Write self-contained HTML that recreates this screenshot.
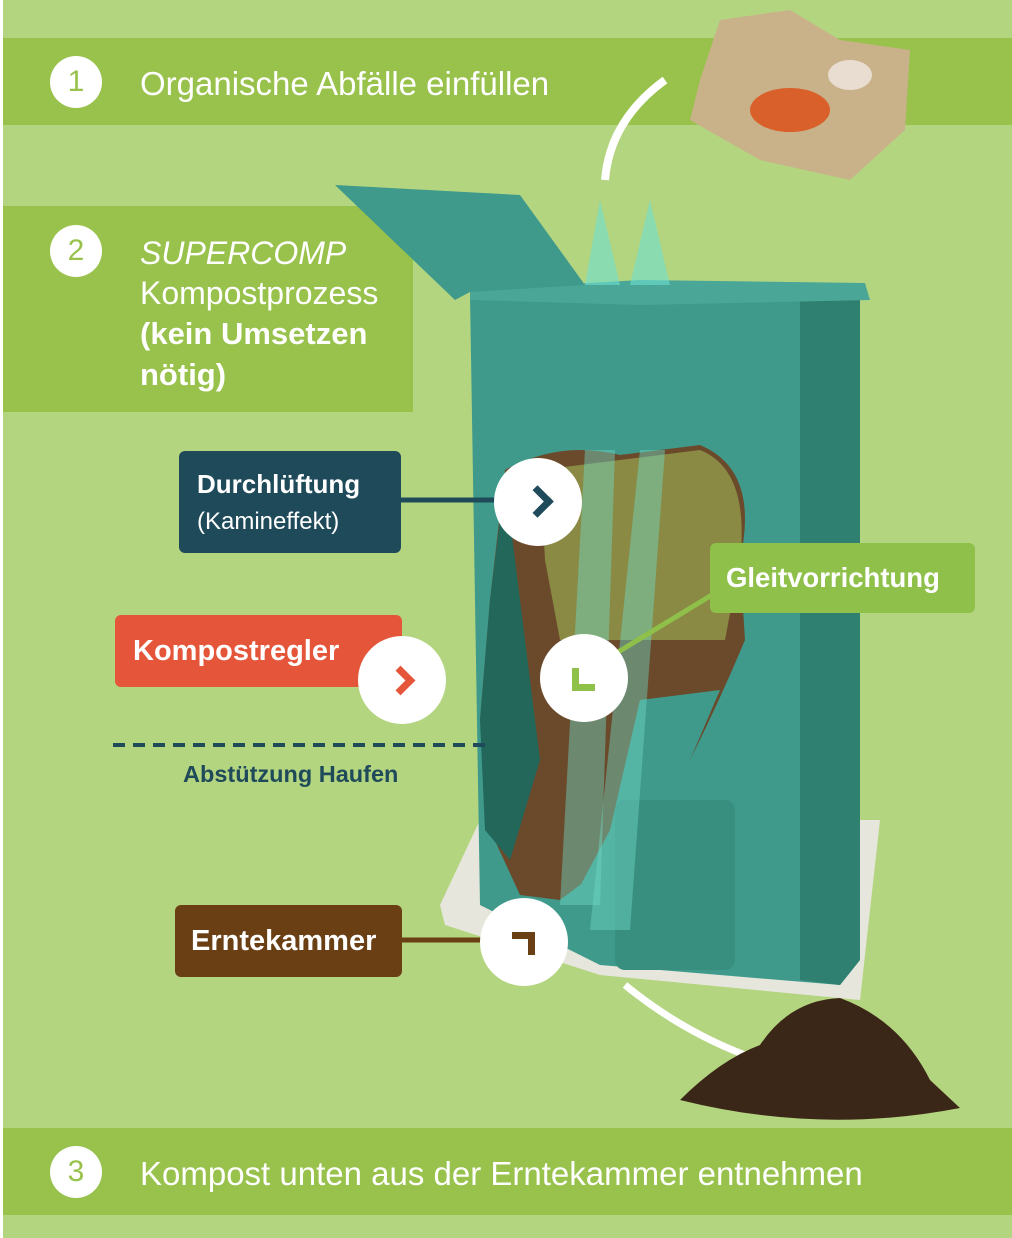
<!DOCTYPE html>
<html><head><meta charset="utf-8"><style>
body{margin:0;width:1012px;height:1238px;overflow:hidden;background:#b4d580;font-family:"Liberation Sans",sans-serif;position:relative}
.band{position:absolute;background:#98c24c}
.num{position:absolute;width:52px;height:52px;border-radius:50%;background:#fff;color:#98c24c;font-size:30px;text-align:center;line-height:52px}
.t{position:absolute;color:#fff;font-size:32px}
.lab{position:absolute;color:#fff;font-weight:bold;font-size:29px;border-radius:6px}
.circ{position:absolute;width:88px;height:88px;border-radius:50%;background:#fff}
</style></head><body>
<div style="position:absolute;left:0;top:0;width:3px;height:1238px;background:#fff"></div>
<div class="band" style="left:3px;top:38px;width:1009px;height:87px"></div>
<div class="band" style="left:3px;top:206px;width:410px;height:206px"></div>
<div class="band" style="left:3px;top:1128px;width:1009px;height:87px"></div>
<div class="num" style="left:50px;top:56px">1</div>
<div class="t" style="left:140px;top:65px;font-size:33px">Organische Abfälle einfüllen</div>
<div class="num" style="left:50px;top:225px">2</div>
<div class="t" style="left:140px;top:233px;line-height:40px"><i>SUPERCOMP</i><br>Kompostprozess<br><b style="font-size:31px">(kein Umsetzen<br>nötig)</b></div>
<div class="num" style="left:50px;top:1146px">3</div>
<div class="t" style="left:140px;top:1155px;font-size:33px">Kompost unten aus der Erntekammer entnehmen</div>

<svg style="position:absolute;left:0;top:0" width="1012" height="1238">
<polygon points="440,905 480,820 880,820 860,1000 600,975 445,925" fill="#e6e6dc"/>
<polygon points="470,295 860,285 860,960 840,985 600,965 480,905" fill="#3f9a8b"/>
<polygon points="800,295 860,285 860,960 840,985 800,980" fill="#2f8071"/>
<polygon points="470,290 640,280 865,283 870,300 640,305 470,300" fill="#4aa696"/>
<polygon points="335,185 520,195 585,285 470,292 455,300" fill="#3f9a8b"/>
<path d="M505,470 Q560,440 620,455 L700,445 Q760,470 740,560 L745,640 Q720,700 690,760 L655,790 L640,830 L600,870 L560,900 L520,895 L490,830 L480,720 L490,600 Z" fill="#6b4a2c"/>
<path d="M540,470 L700,450 Q750,470 740,560 L725,640 L560,640 L545,560 Z" fill="#8a8a45"/>
<path d="M505,480 Q520,600 540,760 L510,860 L485,830 L480,720 L490,600 Z" fill="#23665a"/>
<path d="M640,700 L720,690 L690,760 L660,800 L660,960 L600,965 L570,905 L610,830 Z" fill="#3f9a8b"/>
<rect x="615" y="800" width="120" height="170" rx="10" fill="#388f80"/>
<polygon points="585,450 615,450 600,905 560,905" fill="#6ed6c4" opacity=".45"/>
<polygon points="640,450 665,450 630,930 590,930" fill="#6ed6c4" opacity=".45"/>
<polygon points="585,285 600,200 620,285" fill="#6ee0d0" opacity=".6"/>
<polygon points="630,285 650,200 670,285" fill="#6ee0d0" opacity=".6"/>
<path d="M665,80 Q610,120 605,180" stroke="#fff" stroke-width="8" fill="none"/>
<path d="M625,985 Q680,1030 745,1055" stroke="#fff" stroke-width="7" fill="none"/>
<polygon points="720,20 790,10 840,40 910,50 905,130 850,180 760,160 690,120 700,80" fill="#c9b189"/>
<ellipse cx="790" cy="110" rx="40" ry="22" fill="#d9602a"/>
<ellipse cx="850" cy="75" rx="22" ry="15" fill="#e8ddd0"/>
<path d="M680,1100 Q720,1060 760,1045 Q790,1000 840,998 Q900,1020 930,1080 L960,1108 Q820,1135 680,1100Z" fill="#3b2717"/>
<line x1="400" y1="500" x2="500" y2="500" stroke="#1f4a5a" stroke-width="5"/>
<line x1="605" y1="660" x2="720" y2="590" stroke="#8ec04a" stroke-width="5"/>
<line x1="400" y1="940" x2="490" y2="940" stroke="#6a3f14" stroke-width="5"/>
<line x1="113" y1="745" x2="485" y2="745" stroke="#1f4a5a" stroke-width="4" stroke-dasharray="12,8"/>
</svg>

<div class="lab" style="left:179px;top:451px;width:222px;height:102px;background:#1f4a5a;padding-left:18px;box-sizing:border-box;line-height:36px;padding-top:15px;font-size:26px">Durchlüftung<br><span style="font-weight:normal;font-size:24px">(Kamineffekt)</span></div>
<div class="lab" style="left:115px;top:615px;width:287px;height:72px;background:#e5553a;line-height:72px;padding-left:18px;box-sizing:border-box">Kompostregler</div>
<div class="lab" style="left:710px;top:543px;width:265px;height:70px;background:#8ec04a;line-height:70px;padding-left:16px;box-sizing:border-box;font-size:27.5px">Gleitvorrichtung</div>
<div class="lab" style="left:175px;top:905px;width:227px;height:72px;background:#6a3f14;line-height:72px;padding-left:16px;box-sizing:border-box">Erntekammer</div>
<div style="position:absolute;left:183px;top:761px;color:#1f4a5a;font-weight:bold;font-size:23.5px">Abstützung Haufen</div>

<div class="circ" style="left:494px;top:458px"><div style="position:absolute;left:32px;top:32px;width:16px;height:16px;border-top:7px solid #1f4a5a;border-right:7px solid #1f4a5a;transform:rotate(45deg)"></div></div>
<div class="circ" style="left:358px;top:636px"><div style="position:absolute;left:32px;top:34px;width:14px;height:14px;border-top:7px solid #e5553a;border-right:7px solid #e5553a;transform:rotate(45deg)"></div></div>
<div class="circ" style="left:540px;top:634px"><div style="position:absolute;left:32px;top:34px;width:16px;height:16px;border-bottom:7px solid #8ec04a;border-left:7px solid #8ec04a"></div></div>
<div class="circ" style="left:480px;top:898px"><div style="position:absolute;left:32px;top:34px;width:16px;height:16px;border-top:7px solid #6a3f14;border-right:7px solid #6a3f14"></div></div>
</body></html>
